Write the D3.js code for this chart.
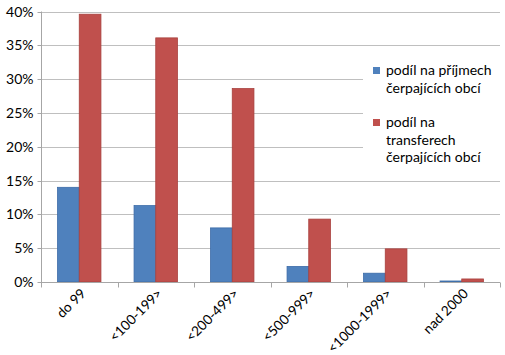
<!DOCTYPE html>
<html><head><meta charset="utf-8">
<script src="https://cdn.jsdelivr.net/npm/d3@7"></script>
<style>body{margin:0;background:#fff}svg{display:block}text{font-family:Lato,"Open Sans",sans-serif;fill:#000}</style>
</head><body>
<svg id="c" width="505" height="355"></svg>
<script>
const categories = ["do 99","<100-199>","<200-499>","<500-999>","<1000-1999>","nad 2000"];
const seriesNames = ["podíl na příjmech čerpajících obcí","podíl na transferech čerpajících obcí"];
const seriesIncome = [14.0, 11.3, 8.0, 2.3, 1.3, 0.15];
const seriesTransfer = [39.6, 36.1, 28.6, 9.3, 4.9, 0.45];
const yTicks = [0,5,10,15,20,25,30,35,40];
const legendLines = [["podíl na příjmech","čerpajících obcí"],["podíl na","transferech","čerpajících obcí"]];
const colors = ["#4F81BD","#C0504D"];
const strokes = ["#3C6CA8","#A8403D"];

const svg = d3.select("#c");
const L = 41, R = 500, T = 11.5, B = 282;
const x = d3.scaleBand().domain(categories).range([L,R]).paddingInner(0).paddingOuter(0);
const x1 = d3.scaleBand().domain([0,1]).range([0,x.bandwidth()]).paddingInner(0).paddingOuter(0.763);
const y = d3.scaleLinear().domain([0,40]).range([B,T]);

// gridlines
svg.append("g").selectAll("line").data(yTicks.filter(d=>d>0)).join("line")
  .attr("x1",L).attr("x2",R).attr("y1",d=>Math.round(y(d))+0.5).attr("y2",d=>Math.round(y(d))+0.5)
  .attr("stroke","#BFBFBF").attr("stroke-width",1);

// y axis
const ya = svg.append("g").attr("transform",`translate(${L+0.5},0)`)
  .call(d3.axisLeft(y).tickValues(yTicks).tickFormat(d=>d+"%").tickSize(4).tickPadding(4));
ya.select(".domain").attr("stroke","#A6A6A6").attr("d",`M0,${T}V${B}`);
ya.selectAll(".tick line").attr("stroke","#A6A6A6");
ya.selectAll(".tick").attr("transform",d=>`translate(0,${Math.round(y(d))+0.5})`);
ya.selectAll("text").style("font-size","14px").attr("fill","#000");

// bars
const data = categories.map((c,i)=>({c, v:[seriesIncome[i],seriesTransfer[i]]}));
const g = svg.append("g");
[0,1].forEach(s=>{
  g.selectAll(".b"+s).data(data).join("rect")
    .attr("x",d=>x(d.c)+x1(s)).attr("width",x1.bandwidth())
    .attr("y",d=>y(d.v[s])).attr("height",d=>B-y(d.v[s]))
    .attr("fill",colors[s]).attr("stroke",strokes[s]).attr("stroke-width",0.8);
});

// x axis
const xa = svg.append("g").attr("transform",`translate(0,${Math.round(B)+0.5})`)
  .call(d3.axisBottom(x).tickSize(0).tickFormat(""));
xa.select(".domain").attr("stroke","#A6A6A6").attr("d",`M${L},0H${R}`);
const bounds = categories.map(c=>x(c)).concat([R]);
xa.selectAll(".bt").data(bounds).join("line").attr("class","bt")
  .attr("x1",d=>Math.round(d)+0.5).attr("x2",d=>Math.round(d)+0.5).attr("y1",0).attr("y2",5).attr("stroke","#A6A6A6");
svg.append("g").selectAll("text").data(categories).join("text")
  .attr("transform",d=>`translate(${x(d)+x.bandwidth()/2+4},${B+9}) rotate(-45)`)
  .attr("text-anchor","end").attr("dy","0.35em").style("font-size","13.6px").text(d=>d);

// legend
const lg = svg.append("g");
lg.append("rect").attr("x",363).attr("y",58).attr("width",142).attr("height",118).attr("fill","#fff");
const entryY = [75, 127];
legendLines.forEach((lines,i)=>{
  lg.append("rect").attr("x",373).attr("y",entryY[i]-8).attr("width",7).attr("height",7).attr("fill",colors[i]);
  lines.forEach((t,j)=>{
    lg.append("text").attr("x",386).attr("y",entryY[i]+j*17.5).style("font-size","14px").text(t);
  });
});
</script>
</body></html>
